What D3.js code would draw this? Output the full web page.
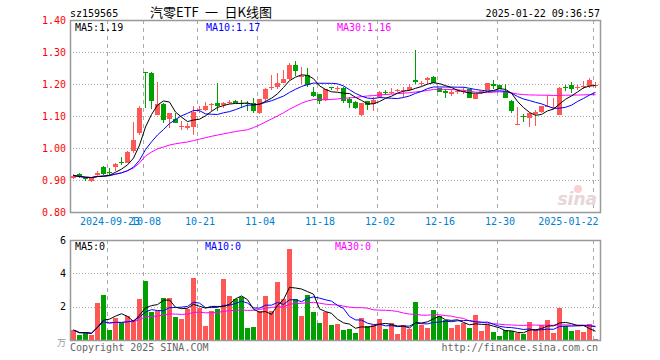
<!DOCTYPE html>
<html>
<head>
<meta charset="utf-8">
<script src="https://cdn.jsdelivr.net/npm/d3@7"></script>
<style>
  body { margin: 0; background: #fff; }
  svg text { font-family: "DejaVu Sans Mono", monospace; font-size: 10px; }
</style>
</head>
<body>
<svg id="chart" width="660" height="360"></svg>
<script>
// trading days shown on the chart
const dates = [
  "2024-09-11","2024-09-12","2024-09-13","2024-09-18","2024-09-19","2024-09-20",
  "2024-09-23","2024-09-24","2024-09-25","2024-09-26","2024-09-27","2024-09-30",
  "2024-10-08","2024-10-09","2024-10-10","2024-10-11","2024-10-14","2024-10-15","2024-10-16","2024-10-17","2024-10-18",
  "2024-10-21","2024-10-22","2024-10-23","2024-10-24","2024-10-25","2024-10-28","2024-10-29","2024-10-30","2024-10-31","2024-11-01",
  "2024-11-04","2024-11-05","2024-11-06","2024-11-07","2024-11-08","2024-11-11","2024-11-12","2024-11-13","2024-11-14","2024-11-15",
  "2024-11-18","2024-11-19","2024-11-20","2024-11-21","2024-11-22","2024-11-25","2024-11-26","2024-11-27","2024-11-28","2024-11-29",
  "2024-12-02","2024-12-03","2024-12-04","2024-12-05","2024-12-06","2024-12-09","2024-12-10","2024-12-11","2024-12-12","2024-12-13",
  "2024-12-16","2024-12-17","2024-12-18","2024-12-19","2024-12-20","2024-12-23","2024-12-24","2024-12-25","2024-12-26","2024-12-27",
  "2024-12-30","2024-12-31","2025-01-02","2025-01-03","2025-01-06","2025-01-07","2025-01-08","2025-01-09","2025-01-10",
  "2025-01-13","2025-01-14","2025-01-15","2025-01-16","2025-01-17","2025-01-20","2025-01-21","2025-01-22"
];

const tickDates = ["2024-09-23","2024-10-08","2024-10-21","2024-11-04","2024-11-18","2024-12-02","2024-12-16","2024-12-30","2025-01-22"];
const tickLabels = ["2024-09-23","10-08","10-21","11-04","11-18","12-02","12-16","12-30","2025-01-22"];

const open = [0.906,0.920,0.906,0.898,0.915,0.942,0.925,0.940,0.955,0.953,
  0.992,1.046,1.237,1.235,1.104,1.138,1.090,1.092,1.067,1.062,
  1.065,1.118,1.120,1.136,1.141,1.133,1.143,1.148,1.142,1.140,
  1.140,1.110,1.152,1.188,1.191,1.204,1.215,1.260,1.222,1.227,
  1.175,1.169,1.150,1.190,1.187,1.188,1.152,1.145,1.104,1.146,
  1.136,1.158,1.175,1.172,1.180,1.177,1.180,1.211,1.200,1.213,
  1.223,1.187,1.177,1.170,1.174,1.176,1.184,1.153,1.174,1.182,
  1.199,1.196,1.178,1.148,1.072,1.101,1.095,1.105,1.111,1.128,
  1.125,1.104,1.191,1.198,1.188,1.191,1.193,1.194];
const high = [0.918,0.921,0.908,0.906,0.927,0.943,0.938,0.952,0.971,0.990,
  1.081,1.130,1.237,1.236,1.206,1.140,1.108,1.108,1.085,1.077,
  1.132,1.130,1.143,1.140,1.202,1.145,1.149,1.150,1.149,1.148,
  1.155,1.153,1.186,1.229,1.233,1.244,1.265,1.273,1.254,1.250,
  1.190,1.170,1.185,1.191,1.195,1.190,1.160,1.146,1.142,1.147,
  1.160,1.177,1.180,1.188,1.185,1.190,1.200,1.307,1.208,1.222,
  1.224,1.188,1.183,1.183,1.185,1.190,1.185,1.170,1.178,1.203,
  1.212,1.197,1.200,1.149,1.127,1.106,1.110,1.120,1.131,1.165,
  1.155,1.190,1.196,1.205,1.198,1.208,1.219,1.207];
const low = [0.902,0.907,0.898,0.894,0.912,0.915,0.917,0.927,0.946,0.952,
  0.985,1.040,1.125,1.123,1.102,1.077,1.062,1.078,1.057,1.057,
  1.040,1.108,1.117,1.117,1.117,1.125,1.137,1.140,1.125,1.115,
  1.110,1.106,1.145,1.181,1.183,1.203,1.214,1.224,1.200,1.190,
  1.159,1.138,1.148,1.180,1.177,1.142,1.126,1.122,1.101,1.119,
  1.115,1.156,1.165,1.170,1.175,1.160,1.179,1.200,1.194,1.199,
  1.202,1.175,1.156,1.164,1.168,1.169,1.155,1.152,1.170,1.181,
  1.184,1.183,1.155,1.110,1.071,1.080,1.066,1.070,1.110,1.127,
  1.123,1.102,1.178,1.172,1.181,1.183,1.189,1.186];
const close = [0.914,0.908,0.904,0.905,0.923,0.919,0.923,0.951,0.954,0.989,
  1.025,1.125,1.235,1.148,1.138,1.089,1.108,1.079,1.069,1.068,
  1.113,1.121,1.132,1.138,1.131,1.141,1.145,1.141,1.140,1.136,
  1.115,1.152,1.185,1.190,1.204,1.215,1.258,1.240,1.226,1.196,
  1.163,1.146,1.184,1.189,1.189,1.148,1.141,1.125,1.141,1.133,
  1.151,1.176,1.174,1.175,1.182,1.180,1.190,1.205,1.203,1.220,
  1.202,1.176,1.173,1.174,1.177,1.179,1.157,1.168,1.177,1.202,
  1.195,1.185,1.157,1.117,1.074,1.099,1.109,1.112,1.130,1.130,
  1.127,1.188,1.186,1.183,1.191,1.193,1.214,1.197];

// volume (axis units)
const volume = [0.6,0.28,0.44,0.28,2.24,2.7,0.6,1.34,1.0,1.44,
  1.2,2.46,3.54,1.68,1.74,2.52,2.52,1.38,1.24,1.86,
  3.72,1.92,0.84,1.74,1.86,3.66,2.64,2.46,2.6,0.74,
  0.8,1.74,2.66,1.74,3.48,2.46,5.46,2.46,1.44,2.7,
  1.7,1.04,1.66,0.9,0.94,0.6,0.66,0.42,1.32,0.84,
  0.9,1.26,0.66,1.02,0.36,0.9,0.66,2.28,0.9,0.72,
  1.8,1.44,1.2,0.72,0.9,1.02,0.72,1.5,0.54,0.9,
  0.48,0.24,0.6,0.54,0.42,0.36,1.08,0.66,0.9,1.2,
  0.42,1.92,0.84,0.54,0.6,0.48,0.96,0.06];

const priceTicks = [0.8, 0.9, 1.0, 1.1, 1.2, 1.3, 1.4];
const volTicks = [2, 4, 6];

const colors = {up: "#ff5656", down: "#00a000", ma5: "#000000", ma10: "#0000ff", ma30: "#ff00ff"};

// simple moving average (shorter window at the start)
function movingAvg(arr, n) {
  return arr.map((_, i) => d3.mean(arr.slice(Math.max(0, i - n + 1), i + 1)));
}

const svg = d3.select("#chart");
const left = 70, right = 600;
const priceTop = 20, priceBottom = 212;
const volTop = 240, volBottom = 340;

const x = d3.scaleBand().domain(dates).range([71, 599]);
const yPrice = d3.scaleLinear().domain([0.8, 1.4]).range([priceBottom, priceTop]);
const yVol = d3.scaleLinear().domain([0, 6]).range([volBottom, volTop]);
const cx = d => x(d) + 2.5;

const data = dates.map((d, i) => ({date: d, open: open[i], high: high[i], low: low[i], close: close[i], vol: volume[i]}));
const isUp = d => d.close >= d.open;

// header
svg.append("text").attr("x", 70).attr("y", 17).text("sz159565");
svg.append("text").attr("x", 150).attr("y", 17)
    .style("font-family", "'Noto Sans CJK SC', sans-serif").style("font-size", "13px")
    .style("white-space", "pre")
    .text("汽零ETF\u2002一\u2002日K线图");
svg.append("text").attr("x", 600).attr("y", 17).attr("text-anchor", "end").text("2025-01-22 09:36:57");

// grids for both panels
function drawGrid(top, bottom, yScale, ticks) {
  const g = svg.append("g");
  g.selectAll(".hgrid").data(ticks).join("line")
      .attr("x1", left).attr("x2", right)
      .attr("y1", d => Math.round(yScale(d)) + 0.5).attr("y2", d => Math.round(yScale(d)) + 0.5)
      .attr("stroke", "#aaa").attr("stroke-dasharray", "1,2");
  g.selectAll(".vgrid").data(tickDates).join("line")
      .attr("x1", d => x(d) + 0.5).attr("x2", d => x(d) + 0.5)
      .attr("y1", top).attr("y2", bottom)
      .attr("stroke", "#aaa").attr("stroke-dasharray", "4,4");
}
drawGrid(priceTop, priceBottom, yPrice, [0.9, 1.0, 1.1, 1.2, 1.3]);
drawGrid(volTop, volBottom, yVol, [2, 4]);

// candles
const candles = svg.append("g").attr("shape-rendering", "crispEdges");
candles.selectAll("line").data(data).join("line")
    .attr("x1", d => cx(d.date)).attr("x2", d => cx(d.date))
    .attr("y1", d => yPrice(d.high)).attr("y2", d => yPrice(d.low))
    .attr("stroke", d => isUp(d) ? colors.up : colors.down);
candles.selectAll("rect").data(data).join("rect")
    .attr("x", d => x(d.date))
    .attr("width", 5)
    .attr("y", d => yPrice(Math.max(d.open, d.close)))
    .attr("height", d => Math.max(1, Math.abs(yPrice(d.open) - yPrice(d.close))))
    .attr("fill", d => isUp(d) ? colors.up : colors.down);

// volume bars
svg.append("g").attr("shape-rendering", "crispEdges")
  .selectAll("rect").data(data).join("rect")
    .attr("x", d => x(d.date))
    .attr("width", 5)
    .attr("y", d => yVol(d.vol))
    .attr("height", d => yVol(0) - yVol(d.vol))
    .attr("fill", d => isUp(d) ? colors.up : colors.down);

// moving average lines
function drawMA(values, yScale, color) {
  const line = d3.line().x((v, i) => cx(dates[i])).y(v => yScale(v));
  svg.append("path").datum(values)
      .attr("d", line).attr("fill", "none")
      .attr("stroke", color).attr("stroke-width", 1);
}
[[30, colors.ma30], [10, colors.ma10], [5, colors.ma5]].forEach(([n, c]) => {
  drawMA(movingAvg(close, n), yPrice, c);
  drawMA(movingAvg(volume, n), yVol, c);
});

// frames
[[priceTop, priceBottom], [volTop, volBottom]].forEach(([t, b]) => {
  svg.append("rect").attr("x", left + 0.5).attr("y", t + 0.5)
      .attr("width", right - left).attr("height", b - t)
      .attr("fill", "none").attr("stroke", "#999").attr("stroke-width", 1.5);
});

// axes
const yAxis = svg.append("g").attr("transform", `translate(${left},0)`)
    .call(d3.axisLeft(yPrice).tickValues(priceTicks).tickFormat(d3.format(".2f")).tickSize(0).tickPadding(4));
yAxis.select(".domain").remove();
yAxis.selectAll("text").attr("fill", "#ff0000").style("font-family", "'DejaVu Sans Mono', monospace").style("font-size", "10px");

const xAxis = svg.append("g").attr("transform", `translate(0,${priceBottom})`)
    .call(d3.axisBottom(x).tickValues(tickDates).tickFormat((d, i) => tickLabels[i]).tickSize(0).tickPadding(6));
xAxis.select(".domain").remove();
xAxis.selectAll("text").attr("fill", "#0080d0").style("font-family", "'DejaVu Sans Mono', monospace").style("font-size", "10px");
xAxis.selectAll(".tick").filter(d => d === "2025-01-22").select("text")
    .attr("text-anchor", "end").attr("x", 598 - x("2025-01-22") - 2.5);

const vAxis = svg.append("g").attr("transform", `translate(${left},0)`)
    .call(d3.axisLeft(yVol).tickValues(volTicks).tickFormat(d3.format("d")).tickSize(0).tickPadding(4));
vAxis.select(".domain").remove();
vAxis.selectAll("text").attr("fill", "#000").style("font-family", "'DejaVu Sans Mono', monospace").style("font-size", "10px");
svg.append("text").attr("x", 66).attr("y", 346).attr("text-anchor", "end")
    .attr("fill", "#999").style("font-family", "'Noto Sans CJK SC', sans-serif").style("font-size", "9px").text("万");

// legends
const legend = [["MA5:1.19", 75, colors.ma5], ["MA10:1.17", 206, colors.ma10], ["MA30:1.16", 337, colors.ma30]];
legend.forEach(([t, lx, c]) => svg.append("text").attr("x", lx).attr("y", 31).attr("fill", c).text(t));
const volLegend = [["MA5:0", 75, colors.ma5], ["MA10:0", 205, colors.ma10], ["MA30:0", 335, colors.ma30]];
volLegend.forEach(([t, lx, c]) => svg.append("text").attr("x", lx).attr("y", 250).attr("fill", c).text(t));

// watermark
svg.append("circle").attr("cx", 578).attr("cy", 189).attr("r", 4).attr("fill", "#f6b0b0").attr("opacity", 0.6);
svg.append("text").attr("x", 597).attr("y", 205).attr("text-anchor", "end")
    .style("font-family", "'DejaVu Sans', sans-serif").style("font-size", "17px")
    .style("font-style", "italic").style("font-weight", "bold")
    .attr("fill", "#e6d6d6").text("sina");

// footer
svg.append("text").attr("x", 70).attr("y", 351).attr("fill", "#666").text("Copyright 2025 SINA.COM");
svg.append("text").attr("x", 598).attr("y", 351).attr("text-anchor", "end").attr("fill", "#666").text("http://finance.sina.com.cn");
</script>
</body>
</html>
